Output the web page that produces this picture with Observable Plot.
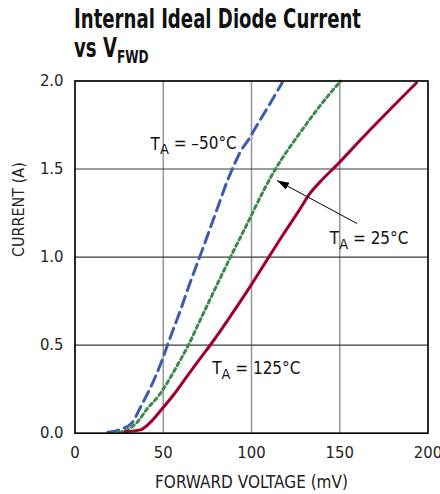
<!DOCTYPE html>
<html><head><meta charset="utf-8">
<script src="https://cdn.jsdelivr.net/npm/d3@7"></script>
<script src="https://cdn.jsdelivr.net/npm/@observablehq/plot@0.6"></script>
<style>
body{margin:0;background:#fff;width:440px;height:494px;overflow:hidden}
#title{position:relative;height:66px;font-family:"Liberation Sans Narrow","DejaVu Sans Condensed",sans-serif;font-weight:bold;font-size:26px;line-height:26px;color:#111}
#title .l{position:absolute;left:74px;white-space:nowrap;transform-origin:0 0}
#title .sub{font-size:0.67em;position:relative;top:6px}
</style></head><body>
<div id="title"><div class="l" id="t1" style="top:6.3px">Internal Ideal Diode Current</div><div class="l" id="t2" style="top:34.7px">vs V<span class="sub">FWD</span></div></div>
<div id="chart"></div>
<script>
const xTicks = [0, 50, 100, 150, 200];
const yTicks = [0, 0.5, 1.0, 1.5, 2.0];

// T_A = -50°C (blue dashed)
const vM50 = [18.6, 25.8, 32.4, 37.1, 42.8, 48.4, 53.1, 59.8, 65.4, 72.1, 76.8, 81.5, 86.2, 90, 93.8, 98.5, 103.2, 109.8, 117.4];
const iM50 = [0.005, 0.022, 0.06, 0.148, 0.26, 0.39, 0.52, 0.70, 0.86, 1.04, 1.17, 1.30, 1.43, 1.52, 1.60, 1.67, 1.75, 1.86, 1.99];
// T_A = 25°C (green dotted)
const v25 = [24.8, 29.5, 35.2, 40.9, 47.5, 53.1, 58.8, 64.5, 70.1, 75.8, 81.5, 87.1, 97.6, 108, 113.6, 127.8, 142.9, 150.6];
const i25 = [0.005, 0.019, 0.0625, 0.139, 0.214, 0.30, 0.40, 0.505, 0.625, 0.745, 0.865, 0.98, 1.19, 1.40, 1.50, 1.71, 1.91, 2.0];
// T_A = 125°C (red solid)
const v125 = [28.2, 37.1, 42.8, 49.4, 56, 65.4, 72.1, 77.7, 88.1, 99.4, 109.8, 117.4, 124, 127, 133, 139.1, 148.6, 161.7, 193.5];
const i125 = [0.008, 0.019, 0.0625, 0.139, 0.22, 0.35, 0.44, 0.515, 0.665, 0.835, 1.0, 1.12, 1.22, 1.265, 1.36, 1.43, 1.525, 1.665, 1.99];

const labelText = ["T_A = –50°C", "T_A = 25°C", "T_A = 125°C"];
const labelX = [42.8, 144.4, 77.7];
const labelY = [1.639, 1.103, 0.365];

const arrowFrom = [159.9, 1.19];
const arrowTo = [114.5, 1.435];

const xLabel = "FORWARD VOLTAGE (mV)";
const yLabel = "CURRENT (A)";

const rows = (v, i) => v.map((d, k) => ({v: d, i: i[k]}));
const labels = labelText.map((t, k) => ({t, x: labelX[k], y: labelY[k]}));
const arrows = [{x1: arrowFrom[0], y1: arrowFrom[1], x2: arrowTo[0], y2: arrowTo[1]}];

const FONT = '"Liberation Sans Narrow","DejaVu Sans Condensed",sans-serif';

function filledArrow(color) {
  const m = d3.create("svg:marker")
    .attr("viewBox", "-12 -6 12 12")
    .attr("markerWidth", 12).attr("markerHeight", 12)
    .attr("markerUnits", "userSpaceOnUse")
    .attr("orient", "auto").attr("refX", 0).attr("refY", 0);
  m.append("path").attr("d", "M-12,-3.8L0,0L-12,3.8Z").attr("fill", color).attr("stroke", "none");
  return m.node();
}

const chart = Plot.plot({
  width: 440, height: 428,
  marginTop: 14.5, marginBottom: 61.3, marginLeft: 74.5, marginRight: 12.5,
  style: {fontFamily: FONT, fontSize: "16px", color: "#222", background: "#fff"},
  x: {domain: [0, 200]},
  y: {domain: [0, 2]},
  marks: [
    Plot.gridX(xTicks, {stroke: "#9a9a9a", strokeOpacity: 1, strokeWidth: 1.6}),
    Plot.gridY(yTicks, {stroke: "#3a3a3a", strokeOpacity: 1, strokeWidth: 1.1}),
    Plot.line(rows(vM50, iM50), {x: "v", y: "i", stroke: "#3d5dab", strokeWidth: 3, strokeDasharray: "11,6", curve: "monotone-x"}),
    Plot.line(rows(v25, i25), {x: "v", y: "i", stroke: "#3b8a4c", strokeWidth: 3, strokeDasharray: "3.5,3.5", curve: "monotone-x"}),
    Plot.line(rows(v125, i125), {x: "v", y: "i", stroke: "#a1002b", strokeWidth: 3, curve: "monotone-x"}),
    Plot.link(arrows, {x1: "x1", y1: "y1", x2: "x2", y2: "y2", stroke: "#000", strokeWidth: 1, markerEnd: filledArrow}),
    Plot.text(labels, {x: "x", y: "y", text: "t", textAnchor: "start", lineAnchor: "middle", fontSize: 17, fill: "#111"}),
    Plot.frame({stroke: "#000", strokeWidth: 1.5}),
    Plot.axisX(xTicks, {tickSize: 0, tickPadding: 12.6, fontSize: 16.5, label: null}),
    Plot.axisY(yTicks, {tickSize: 0, tickPadding: 11.5, fontSize: 16.5, tickFormat: d3.format(".1f"), label: null}),
    Plot.text([xLabel], {text: d => d, frameAnchor: "bottom", dy: 49.3, lineAnchor: "middle", fontSize: 17, fill: "#222"}),
    Plot.text([yLabel], {text: d => d, frameAnchor: "left", dx: -56, rotate: -90, lineAnchor: "middle", fontSize: 16, fill: "#222"})
  ]
});

chart.querySelectorAll("text").forEach(t => {
  const s = t.textContent;
  if (s.startsWith("T_A")) {
    t.textContent = "";
    const ns = "http://www.w3.org/2000/svg";
    const a = document.createElementNS(ns, "tspan"); a.textContent = "T"; t.appendChild(a);
    const b = document.createElementNS(ns, "tspan"); b.textContent = "A"; b.setAttribute("dy", "0.3em"); b.setAttribute("font-size", "0.85em"); t.appendChild(b);
    const c = document.createElementNS(ns, "tspan"); c.textContent = s.slice(3); c.setAttribute("dy", "-0.3em"); t.appendChild(c);
  }
});

document.getElementById("chart").appendChild(chart);

// fit title width to the reference line width
const t1 = document.getElementById("t1"), t2 = document.getElementById("t2");
const k = 287 / t1.getBoundingClientRect().width;
t1.style.transform = `scaleX(${k})`;
t2.style.transform = `scaleX(${k})`;
</script>
</body></html>
